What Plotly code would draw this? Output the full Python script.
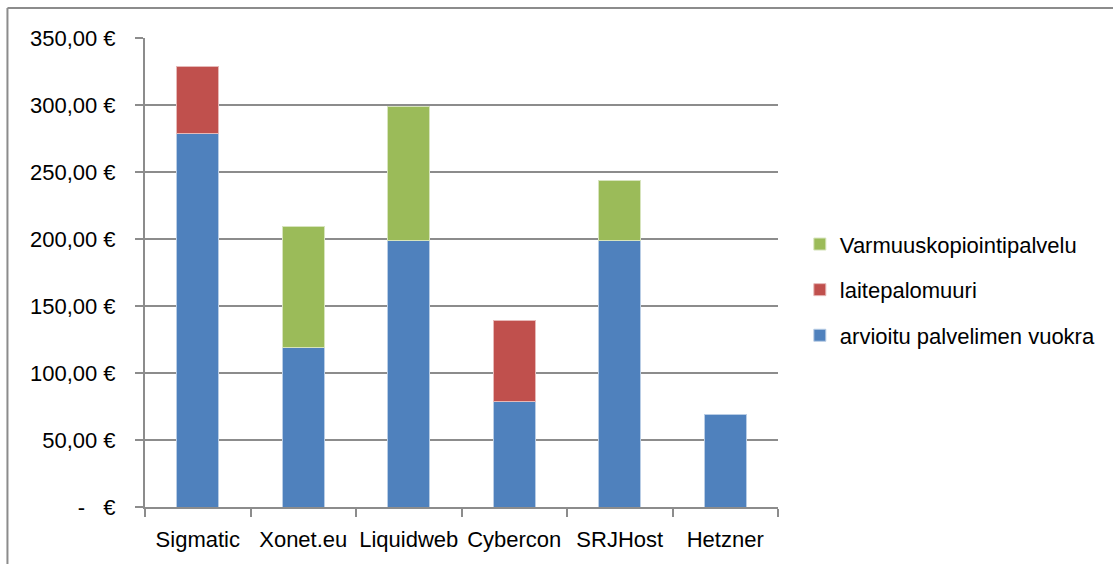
import plotly.graph_objects as go

# Hosting cost comparison (monthly, euros); None = no such cost item
providers = ["Sigmatic", "Xonet.eu", "Liquidweb", "Cybercon", "SRJHost", "Hetzner"]
server_rent = [279, 119, 199, 79, 199, 69]            # arvioitu palvelimen vuokra
hw_firewall = [50, None, None, 60, None, None]        # laitepalomuuri
backup_service = [None, 90, 100, None, 45, None]      # Varmuuskopiointipalvelu

y_ticks = [0, 50, 100, 150, 200, 250, 300, 350]
y_tick_text = ["-   €", "50,00 €", "100,00 €", "150,00 €", "200,00 €",
               "250,00 €", "300,00 €", "350,00 €"]

# (name, values, fill, edge, legend rank)
series = [
    ("arvioitu palvelimen vuokra", server_rent, "#4F81BD", "#B9CDE5", 3),
    ("laitepalomuuri", hw_firewall, "#C0504D", "#E6B9B8", 2),
    ("Varmuuskopiointipalvelu", backup_service, "#9BBB59", "#D7E4BD", 1),
]

fig = go.Figure()
for name, vals, color, edge, rank in series:
    fig.add_trace(go.Bar(
        x=providers, y=vals, name=name, legendgroup=name, legendrank=rank,
        marker=dict(color=color, line=dict(color=edge, width=1)),
    ))

GRAY = "#8C8C8C"
FONT = "Liberation Sans, Arial, sans-serif"

fig.update_layout(
    barmode="stack",
    bargap=0.6,
    width=1113, height=564,
    margin=dict(l=145, r=333, t=38, b=57),
    paper_bgcolor="white", plot_bgcolor="white",
    font=dict(family=FONT, size=22, color="black"),
    showlegend=True,
    legend=dict(
        traceorder="grouped", tracegroupgap=14,
        x=1.0345, xanchor="left", y=0.605, yanchor="top",
        font=dict(family=FONT, size=22, color="black"),
        bgcolor="rgba(0,0,0,0)",
    ),
    xaxis=dict(
        type="category", range=[-0.5, 5.5],
        showline=True, linecolor=GRAY, linewidth=2,
        ticks="outside", tickson="boundaries", ticklen=8, tickwidth=2, tickcolor=GRAY,
        showgrid=False, ticklabelstandoff=12, tickangle=0, automargin=False,
    ),
    yaxis=dict(
        range=[0, 350], tickvals=y_ticks, ticktext=y_tick_text,
        showline=True, linecolor=GRAY, linewidth=2,
        ticks="outside", ticklen=8, tickwidth=2, tickcolor=GRAY,
        showgrid=True, gridcolor=GRAY, gridwidth=2, zeroline=False,
        ticklabelstandoff=15, automargin=False,
    ),
    shapes=[
        # chart frame: top and left edges
        dict(type="line", xref="paper", yref="paper",
             x0=-0.2173, x1=1.53, y0=1.064, y1=1.064,
             line=dict(color=GRAY, width=2)),
        dict(type="line", xref="paper", yref="paper",
             x0=-0.2173, x1=-0.2173, y0=1.064, y1=-0.13,
             line=dict(color=GRAY, width=2)),
    ],
)

fig.write_html("out.html")
